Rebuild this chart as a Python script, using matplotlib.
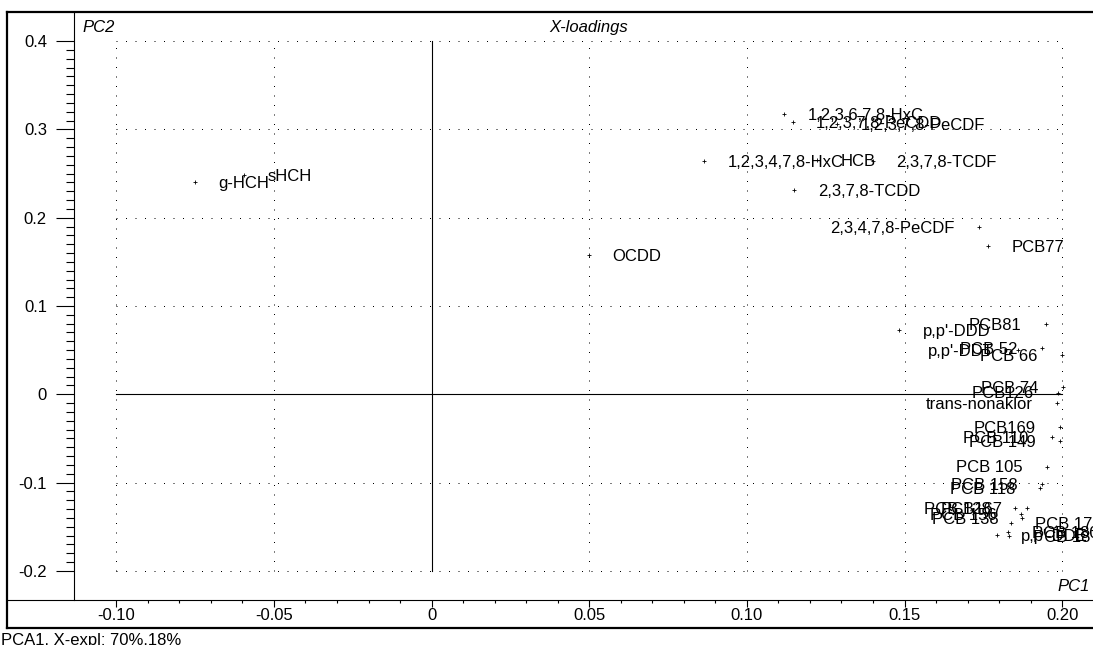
import numpy as np
import matplotlib
matplotlib.use("Agg")
import matplotlib.pyplot as plt
from matplotlib.lines import Line2D
from matplotlib.ticker import FixedLocator, FixedFormatter

plt.rcParams['font.family'] = ['Liberation Sans', 'DejaVu Sans']
plt.rcParams['font.size'] = 12

# X-loadings of the variables on PC1 / PC2
variables = [
    "g-HCH", "sHCH", "OCDD",
    "1,2,3,6,7,8-HxC", "1,2,3,7,8-PeCDD", "1,2,3,7,8-PeCDF",
    "1,2,3,4,7,8-HxC", "HCB", "2,3,7,8-TCDF", "2,3,7,8-TCDD",
    "2,3,4,7,8-PeCDF", "PCB77",
    "p,p'-DDD", "PCB81", "p,p'-DDT", "PCB 52", "PCB 66",
    "PCB 74", "PCB126", "trans-nonaklor",
    "PCB169", "PCB 110", "PCB 149", "PCB 105", "PCB 158", "PCB 118",
    "PCB 128", "PCB167", "PCB 156", "PCB 138",
    "PCB 170", "PCB 180", "PCB 187", "p,p'-DDE",
]
pc1 = [
    -0.0750, -0.0594, 0.0499,
    0.1118, 0.1145, 0.1285,
    0.0864, 0.1222, 0.1400, 0.1150,
    0.1737, 0.1764,
    0.1483, 0.1948, 0.1860, 0.1936, 0.1998,
    0.2003, 0.1987, 0.1984,
    0.1993, 0.1969, 0.1993, 0.1952, 0.1936, 0.1929,
    0.1850, 0.1889, 0.1869, 0.1874,
    0.1839, 0.1828, 0.1832, 0.1794,
]
pc2 = [
    0.2408, 0.2483, 0.1577,
    0.3171, 0.3080, 0.3061,
    0.2642, 0.2653, 0.2642, 0.2314,
    0.1895, 0.1679,
    0.0728, 0.0796, 0.0502, 0.0521, 0.0445,
    0.0083, 0.0020, -0.0102,
    -0.0370, -0.0484, -0.0529, -0.0818, -0.1016, -0.1067,
    -0.1288, -0.1288, -0.1361, -0.1401,
    -0.1461, -0.1556, -0.1605, -0.1593,
]

x_ticks = [-0.10, -0.05, 0.0, 0.05, 0.10, 0.15, 0.20]
x_tick_labels = ["-0.10", "-0.05", "0", "0.05", "0.10", "0.15", "0.20"]
y_ticks = [-0.2, -0.1, 0.0, 0.1, 0.2, 0.3, 0.4]
y_tick_labels = ["-0.2", "-0.1", "0", "0.1", "0.2", "0.3", "0.4"]

W, H = 1093, 645
fig = plt.figure(figsize=(W / 100, H / 100), dpi=100)
fig.patch.set_facecolor("white")


def fx(px):
    return px / W


def fy(py):
    return 1 - py / H


# plot frame (its right edge lies just past the image border)
ax = fig.add_axes([fx(74), fy(600), fx(1103.5) - fx(74), fy(12) - fy(600)])
ax.set_xlim(-0.1134, 0.2131)
ax.set_ylim(-0.2330, 0.4330)
for side in ("top", "right", "bottom"):
    ax.spines[side].set_visible(False)
ax.spines["left"].set_linewidth(0.8)

ax.xaxis.set_major_locator(FixedLocator(x_ticks))
ax.xaxis.set_major_formatter(FixedFormatter(x_tick_labels))
ax.xaxis.set_minor_locator(FixedLocator(np.round(np.arange(-0.10, 0.2001, 0.01), 3)))
ax.yaxis.set_major_locator(FixedLocator(y_ticks))
ax.yaxis.set_major_formatter(FixedFormatter(y_tick_labels))
ax.yaxis.set_minor_locator(FixedLocator(np.round(np.arange(-0.20, 0.4001, 0.01), 3)))

ax.tick_params(axis="x", which="major", direction="out", length=5, width=0.8,
               pad=0.5, labelsize=12)
ax.tick_params(axis="x", which="minor", direction="out", length=2.2, width=0.8)
ax.tick_params(axis="y", which="major", direction="out", length=13, width=0.8,
               pad=6.5, labelsize=12)
ax.tick_params(axis="y", which="minor", direction="out", length=5.8, width=0.8)

# dotted grid inside the tick range
dots = (0, (1, 8.5))
for xv in x_ticks:
    if xv != 0:
        ax.plot([xv, xv], [y_ticks[0], y_ticks[-1]], color="k", lw=0.72,
                linestyle=dots, zorder=1)
for yv in y_ticks:
    if yv != 0:
        ax.plot([x_ticks[0], x_ticks[-1]], [yv, yv], color="k", lw=0.72,
                linestyle=dots, zorder=1)

# solid zero axes
ax.plot([x_ticks[0], x_ticks[-1]], [0, 0], color="k", lw=0.8, zorder=2)
ax.plot([0, 0], [y_ticks[0], y_ticks[-1]], color="k", lw=0.8, zorder=2)

# loadings
ax.plot(pc1, pc2, linestyle="none", marker="+", ms=3.5, mew=0.6, color="k", zorder=3)

labels = []
for name, xv, yv in zip(variables, pc1, pc2):
    t = ax.annotate(name, (xv, yv), xytext=(17, -4.3), textcoords="offset points",
                    ha="left", va="baseline", fontsize=12, color="k", zorder=4)
    labels.append(t)

# labels that would run past the frame go on the left side of their point
fig.canvas.draw()
renderer = fig.canvas.get_renderer()
right_edge = ax.get_window_extent(renderer).x1
for t in labels:
    if t.get_window_extent(renderer).x1 > right_edge:
        t.set_ha("right")
        t.xyann = (-17.5, -4.3)

# outer frame and axis rule
frame_kw = dict(transform=fig.transFigure, color="k")
fig.add_artist(Line2D([fx(7), 1], [fy(12), fy(12)], lw=1.6, **frame_kw))
fig.add_artist(Line2D([fx(7), fx(7)], [fy(12), fy(628)], lw=1.6, **frame_kw))
fig.add_artist(Line2D([fx(7), 1], [fy(628), fy(628)], lw=1.6, **frame_kw))
fig.add_artist(Line2D([fx(7), 1], [fy(600), fy(600)], lw=0.8, **frame_kw))

# captions
fig.text(fx(82), fy(32.3), "PC2", style="italic", ha="left", va="baseline", fontsize=12)
fig.text(fx(589), fy(32.3), "X-loadings", style="italic", ha="center", va="baseline",
         fontsize=12)
fig.text(fx(1090), fy(590.7), "PC1", style="italic", ha="right", va="baseline",
         fontsize=12)
fig.text(fx(1), fy(645), "PCA1, X-expl: 70%,18%", ha="left", va="baseline",
         fontsize=12)

fig.savefig("out.png", dpi=100, facecolor="white")
